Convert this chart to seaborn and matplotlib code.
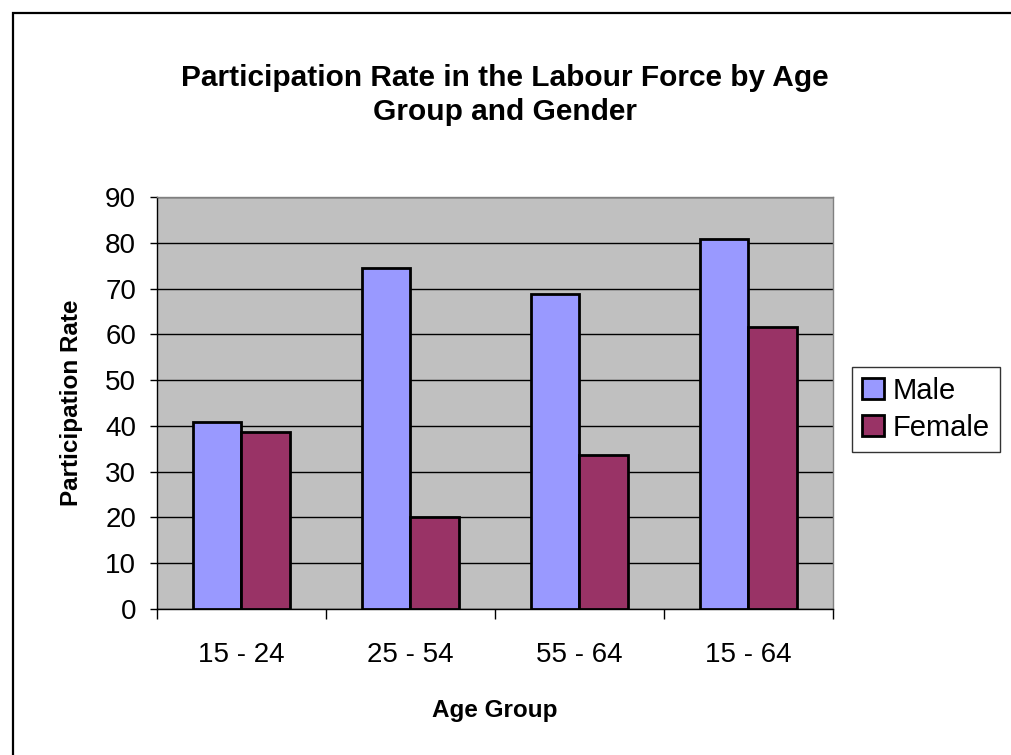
import matplotlib
matplotlib.use("Agg")
import matplotlib.pyplot as plt
import seaborn as sns
import pandas as pd
from matplotlib.patches import Rectangle

# data
age_groups = ["15 - 24", "25 - 54", "55 - 64", "15 - 64"]
male = [40.9, 74.5, 68.8, 80.9]
female = [38.6, 20.2, 33.7, 61.6]

df = pd.DataFrame({
    "Age Group": age_groups * 2,
    "Gender": ["Male"] * 4 + ["Female"] * 4,
    "Rate": male + female,
})

sns.set_style("white")
plt.rcParams["font.family"] = ["Liberation Sans", "DejaVu Sans"]
plt.rcParams["text.color"] = "black"
plt.rcParams["axes.labelcolor"] = "black"
plt.rcParams["xtick.color"] = "black"
plt.rcParams["ytick.color"] = "black"

fig = plt.figure(figsize=(10.12, 7.55), dpi=100)
ax = fig.add_axes([157 / 1012, 1 - 609 / 755, (833 - 157) / 1012, (609 - 197) / 755])

sns.barplot(data=df, x="Age Group", y="Rate", hue="Gender", order=age_groups,
            palette={"Male": "#9999FF", "Female": "#993366"},
            width=0.57, gap=0, edgecolor="black", linewidth=2,
            saturation=1, ax=ax, zorder=3)

ax.set_facecolor("#C0C0C0")
ax.set_ylim(0, 90)
ax.set_xlim(-0.5, 3.5)
ax.set_yticks(range(0, 91, 10))
ax.yaxis.grid(True, color="black", linewidth=1, zorder=1)
ax.set_axisbelow(True)

# category ticks sit between groups, labels centered
ax.set_xticks([i - 0.5 for i in range(5)], minor=True)
ax.tick_params(axis="x", which="major", bottom=True, length=0, pad=24, labelsize=20)
ax.tick_params(axis="x", which="minor", bottom=True, length=7, width=1, direction="out")
ax.tick_params(axis="y", left=True, length=5, width=1, direction="out", labelsize=20, pad=10)

for side in ["left", "bottom"]:
    ax.spines[side].set_color("black")
    ax.spines[side].set_linewidth(1)
for side in ["top", "right"]:
    ax.spines[side].set_color("#808080")
    ax.spines[side].set_linewidth(1)

ax.set_xlabel("Age Group", fontsize=17.5, fontweight="bold", labelpad=22)
ax.set_ylabel("Participation Rate", fontsize=17.5, fontweight="bold", labelpad=16)

leg = ax.legend(loc="center left", bbox_to_anchor=(1.028, 0.485), fontsize=21,
                frameon=True, fancybox=False, edgecolor="black",
                handlelength=0.75, handleheight=0.75, handletextpad=0.3,
                borderpad=0.35, labelspacing=0.3, borderaxespad=0)
leg.get_frame().set_linewidth(1)
for h in leg.legend_handles:
    h.set_edgecolor("black")
    h.set_linewidth(2)

fig.text(505 / 1012, 1 - 95 / 755,
         "Participation Rate in the Labour Force by Age\nGroup and Gender",
         ha="center", va="center", fontsize=21.5, fontweight="bold", linespacing=1.25)

# outer chart frame (only top and left edges are in view)
fig.patches.append(Rectangle((13 / 1012, -0.1), 1.1, 1 - 13 / 755 + 0.1,
                             transform=fig.transFigure, fill=False,
                             edgecolor="black", linewidth=1.6))

fig.savefig("out.png", dpi=100, facecolor="white")
